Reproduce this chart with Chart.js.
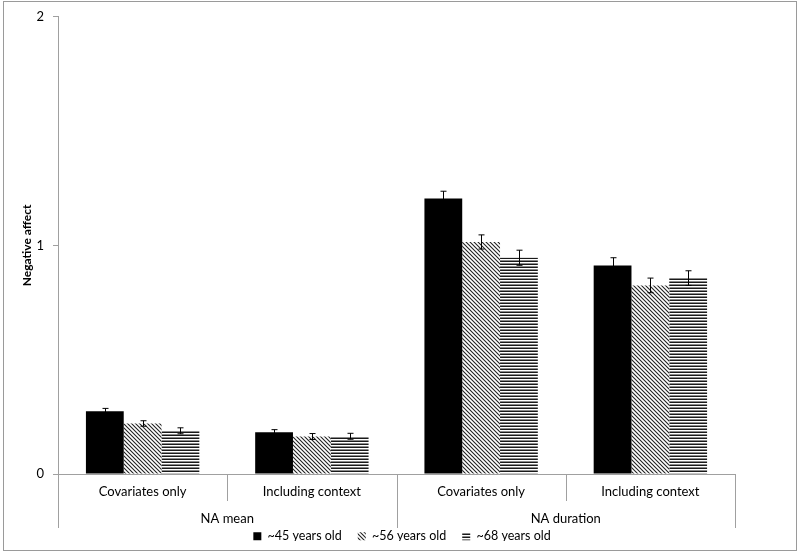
<!DOCTYPE html>
<html lang="en">
<head>
    <meta charset="UTF-8">
    <title>Negative affect by age</title>
    <style>
        body { margin: 0; background: #fff; }
        .wrap { width: 800px; height: 555px; position: relative; }
    </style>
    <script src="https://cdn.jsdelivr.net/npm/chart.js"></script>
</head>
<body>
<div class="wrap"><canvas id="chart" width="800" height="555"></canvas></div>
<script>
    // values
    const subLabels = ['Covariates only', 'Including context', 'Covariates only', 'Including context'];
    const groupLabels = ['NA mean', 'NA duration'];
    const seriesNames = ['~45 years old', '~56 years old', '~68 years old'];
    const age45 = [0.275, 0.183, 1.205, 0.912];
    const age56 = [0.221, 0.164, 1.015, 0.825];
    const age68 = [0.189, 0.165, 0.946, 0.857];
    const err45 = [0.012, 0.011, 0.032, 0.034];
    const err56 = [0.012, 0.013, 0.031, 0.032];
    const err68 = [0.013, 0.013, 0.033, 0.032];
    const yTicks = [0, 1, 2];

    function makePattern(kind) {
        const c = document.createElement('canvas');
        const g = c.getContext('2d');
        if (kind === 'diag') {
            c.width = 4; c.height = 4;
            g.fillStyle = '#fff';
            g.fillRect(0, 0, 4, 4);
            g.strokeStyle = '#222';
            g.lineWidth = 1.1;
            g.beginPath();
            g.moveTo(-1, -1); g.lineTo(5, 5);
            g.moveTo(-1, 3); g.lineTo(1, 5);
            g.moveTo(3, -1); g.lineTo(5, 1);
            g.stroke();
        } else {
            c.width = 3; c.height = 3;
            g.fillStyle = '#fff';
            g.fillRect(0, 0, 3, 3);
            g.fillStyle = '#1a1a1a';
            g.fillRect(0, 0, 3, 1);
            g.fillStyle = '#8a8a8a';
            g.fillRect(0, 2, 3, 1);
        }
        return g.createPattern(c, 'repeat');
    }

    const fills = ['#000', makePattern('diag'), makePattern('horiz')];
    const values = [age45, age56, age68];
    const errors = [err45, err56, err68];

    const errorBars = {
        id: 'errorBars',
        afterDatasetsDraw(chart) {
            const ctx = chart.ctx;
            const y = chart.scales.y;
            ctx.save();
            ctx.strokeStyle = '#000';
            ctx.lineWidth = 1;
            chart.data.datasets.forEach((ds, di) => {
                const meta = chart.getDatasetMeta(di);
                meta.data.forEach((bar, i) => {
                    const v = ds.data[i], e = errors[di][i];
                    const x = Math.round(bar.x) + 0.5;
                    const yt = y.getPixelForValue(v + e), yb = y.getPixelForValue(v - e);
                    ctx.beginPath();
                    ctx.moveTo(x, yt); ctx.lineTo(x, yb);
                    ctx.moveTo(x - 3, yt); ctx.lineTo(x + 3, yt);
                    ctx.moveTo(x - 3, yb); ctx.lineTo(x + 3, yb);
                    ctx.stroke();
                });
            });
            ctx.restore();
        }
    };

    const frame = {
        id: 'frame',
        afterLayout(chart) {
            // legend sits closer to the group labels and centred on the page
            chart.legend.top -= 14;
            chart.legend.bottom -= 14;
            chart.legend.left += 26;
            chart.legend.right += 26;
        },
        beforeDraw(chart) {
            const ctx = chart.ctx;
            ctx.save();
            ctx.fillStyle = '#fff';
            ctx.fillRect(0, 0, chart.width, chart.height);
            ctx.strokeStyle = '#9a9a9a';
            ctx.lineWidth = 1;
            ctx.strokeRect(3.5, 1.5, 793, 549);
            ctx.restore();
        },
        afterDraw(chart) {
            // category separators under the axis
            const ctx = chart.ctx;
            const x = chart.scales.x, x2 = chart.scales.x2;
            const n = subLabels.length;
            const step = (x.getPixelForValue(1) - x.getPixelForValue(0));
            ctx.save();
            ctx.strokeStyle = '#a0a0a0';
            ctx.lineWidth = 1;
            for (let i = 0; i <= n; i++) {
                const px = Math.round(x.getPixelForValue(0) - step / 2 + i * step) + 0.5;
                const long = i % 2 === 0;
                ctx.beginPath();
                ctx.moveTo(px, x.top);
                ctx.lineTo(px, long ? x2.bottom : x.bottom);
                ctx.stroke();
            }
            ctx.restore();
        }
    };

    new Chart(document.getElementById('chart'), {
        type: 'bar',
        data: {
            labels: subLabels,
            datasets: seriesNames.map((name, i) => ({
                label: name,
                data: values[i],
                backgroundColor: fills[i],
                borderWidth: 0,
                barPercentage: 1,
                categoryPercentage: 0.67
            }))
        },
        options: {
            responsive: false,
            animation: false,
            layout: { padding: { top: 12, right: 65, left: 17, bottom: 0 } },
            plugins: {
                legend: {
                    position: 'bottom',
                    maxHeight: 27,
                    labels: {
                        boxWidth: 8, boxHeight: 8, padding: 16,
                        color: '#000',
                        font: { family: 'Lato', size: 12.5 }
                    }
                },
                tooltip: { enabled: false }
            },
            scales: {
                x: {
                    grid: { display: false, drawTicks: false },
                    border: { color: '#a0a0a0' },
                    ticks: { color: '#000', padding: 10, font: { family: 'Lato', size: 13 } },
                    afterFit(s) { s.height = 27; }
                },
                x2: {
                    type: 'category',
                    labels: groupLabels,
                    position: 'bottom',
                    offset: true,
                    grid: { display: false, drawTicks: false },
                    border: { display: false },
                    ticks: { color: '#000', padding: 10, font: { family: 'Lato', size: 13 } },
                    afterFit(s) { s.height = 27; }
                },
                y: {
                    min: 0, max: 2,
                    afterBuildTicks(s) { s.ticks = yTicks.map(v => ({ value: v })); },
                    afterFit(s) { s.width = 41; },
                    grid: { drawOnChartArea: false, tickLength: 5, color: '#a0a0a0' },
                    border: { color: '#a0a0a0' },
                    ticks: { color: '#000', padding: 9, font: { family: 'Lato', size: 13 } },
                    title: {
                        display: true,
                        text: 'Negative affect',
                        color: '#000',
                        padding: { top: 3, bottom: 3 },
                        font: { family: 'Lato', size: 12, weight: 'bold' }
                    }
                }
            }
        },
        plugins: [frame, errorBars]
    });
</script>
</body>
</html>
